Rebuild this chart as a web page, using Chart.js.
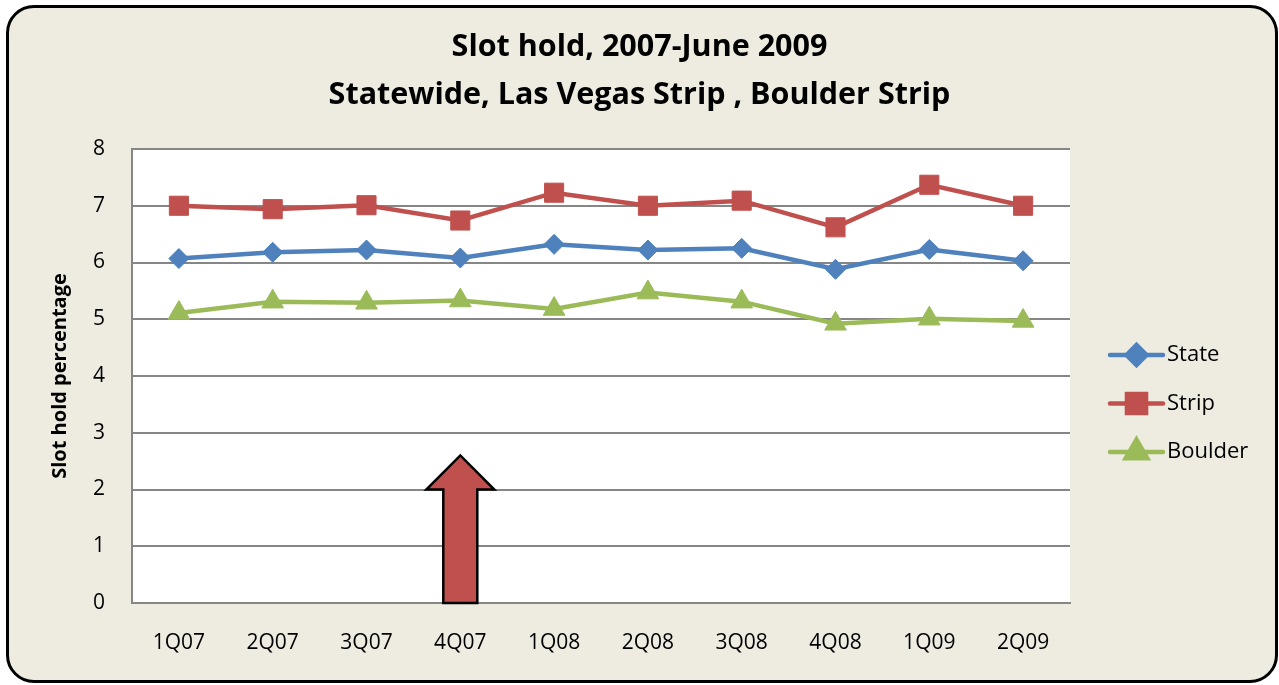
<!DOCTYPE html>
<html lang="en">
<head>
<meta charset="UTF-8">
<title>Slot hold, 2007-June 2009</title>
<script src="https://cdn.jsdelivr.net/npm/chart.js@4"></script>
<style>
  body { margin: 0; background: #ffffff; }
  .wrap { position: relative; width: 1279px; height: 685px; }
  /* rounded frame behind the chart */
  .frame {
    position: absolute; left: 6px; top: 5px; width: 1266px; height: 672px;
    background: #EEECE1; border: 3px solid #000; border-radius: 28px;
  }
  canvas { position: absolute; left: 0; top: 0; }
</style>
</head>
<body>
<div class="wrap">
  <div class="frame"></div>
  <canvas id="slotChart" width="1279" height="685"></canvas>
</div>
<script>
  const quarters = ["1Q07", "2Q07", "3Q07", "4Q07", "1Q08", "2Q08", "3Q08", "4Q08", "1Q09", "2Q09"];
  const stateHold = [6.07, 6.18, 6.22, 6.08, 6.32, 6.22, 6.25, 5.88, 6.23, 6.03];
  const stripHold = [7.0, 6.94, 7.01, 6.74, 7.23, 7.0, 7.09, 6.62, 7.37, 7.0];
  const boulderHold = [5.11, 5.31, 5.29, 5.33, 5.18, 5.47, 5.31, 4.92, 5.01, 4.97];
  const yTicks = [0, 1, 2, 3, 4, 5, 6, 7, 8];

  // arrow marking 4Q07 (value of tip and base of head)
  const arrowQuarter = "4Q07";
  const arrowTip = 2.6;
  const arrowHeadBase = 2.0;

  const gridColor = "#868686";
  const fontFamily = "'Open Sans', 'DejaVu Sans', sans-serif";

  // white plot area
  const plotBackground = {
    id: "plotBackground",
    beforeDraw(chart) {
      const { ctx, chartArea: a } = chart;
      ctx.save();
      ctx.fillStyle = "#ffffff";
      ctx.fillRect(a.left, a.top, a.right - a.left, a.bottom - a.top);
      ctx.restore();
    }
  };

  // red up arrow drawn through the scales
  const upArrow = {
    id: "upArrow",
    afterDatasetsDraw(chart) {
      const { ctx, scales } = chart;
      const x = scales.x.getPixelForValue(quarters.indexOf(arrowQuarter));
      const yBottom = scales.y.getPixelForValue(0);
      const yHead = scales.y.getPixelForValue(arrowHeadBase);
      const yTip = scales.y.getPixelForValue(arrowTip);
      const bodyHalf = 17, headHalf = 34;
      ctx.save();
      ctx.beginPath();
      ctx.moveTo(x - bodyHalf, yBottom);
      ctx.lineTo(x - bodyHalf, yHead);
      ctx.lineTo(x - headHalf, yHead);
      ctx.lineTo(x, yTip);
      ctx.lineTo(x + headHalf, yHead);
      ctx.lineTo(x + bodyHalf, yHead);
      ctx.lineTo(x + bodyHalf, yBottom);
      ctx.closePath();
      ctx.fillStyle = "#C0504D";
      ctx.fill();
      ctx.lineWidth = 2.5;
      ctx.lineJoin = "miter";
      ctx.strokeStyle = "#000000";
      ctx.stroke();
      ctx.restore();
    }
  };

  // legend: line with marker in the middle, like Excel
  const sideLegend = {
    id: "sideLegend",
    afterDraw(chart) {
      const { ctx } = chart;
      const x0 = 1110, x1 = 1163, startY = 355, gap = 48.5;
      chart.data.datasets.forEach((ds, i) => {
        const y = startY + i * gap;
        ctx.save();
        ctx.strokeStyle = ds.borderColor;
        ctx.lineWidth = 4.5;
        ctx.lineCap = "round";
        ctx.beginPath();
        ctx.moveTo(x0, y);
        ctx.lineTo(x1, y);
        ctx.stroke();
        Chart.helpers.drawPoint(ctx, {
          pointStyle: ds.pointStyle,
          radius: ds.pointRadius,
          borderWidth: 1
        }, (x0 + x1) / 2, y);
        ctx.fillStyle = ds.borderColor;
        ctx.fill();
        ctx.fillStyle = "#000000";
        ctx.font = "22px " + fontFamily;
        ctx.textBaseline = "middle";
        ctx.textAlign = "left";
        ctx.fillText(ds.label, x1 + 4, y);
        ctx.restore();
      });
    }
  };

  function series(label, data, color, style, radius) {
    return {
      label: label,
      data: data,
      borderColor: color,
      backgroundColor: color,
      pointBackgroundColor: color,
      pointBorderColor: color,
      borderWidth: 4.5,
      pointStyle: style,
      pointRadius: radius,
      pointHoverRadius: radius,
      pointBorderWidth: 1,
      tension: 0
    };
  }

  new Chart(document.getElementById("slotChart"), {
    type: "line",
    data: {
      labels: quarters,
      datasets: [
        series("State", stateHold, "#4F81BD", "rectRot", 10),
        series("Strip", stripHold, "#C0504D", "rect", 13.5),
        series("Boulder", boulderHold, "#9BBB59", "triangle", 12.5)
      ]
    },
    options: {
      responsive: false,
      animation: false,
      layout: { padding: 0 },
      plugins: {
        legend: { display: false },
        tooltip: { enabled: false },
        title: {
          display: true,
          text: ["Slot hold, 2007-June 2009", "Statewide, Las Vegas Strip , Boulder Strip"],
          color: "#000000",
          font: { family: fontFamily, size: 30.5, weight: "bold", lineHeight: 1.574 },
          padding: { top: 23, bottom: 30 }
        }
      },
      scales: {
        x: {
          offset: true,
          grid: { display: false, drawTicks: false },
          border: { display: true, color: gridColor, width: 2 },
          ticks: { color: "#000000", font: { family: fontFamily, size: 21 }, padding: 27, maxRotation: 0 },
          afterFit(s) { s.height = 82; }
        },
        y: {
          min: 0,
          max: 8,
          afterBuildTicks(s) { s.ticks = yTicks.map(v => ({ value: v })); },
          grid: { color: gridColor, lineWidth: 2, drawTicks: false },
          border: { display: true, color: gridColor, width: 2 },
          ticks: { color: "#000000", font: { family: fontFamily, size: 21 }, padding: 27 },
          title: {
            display: true,
            text: "Slot hold percentage",
            color: "#000000",
            font: { family: fontFamily, size: 20, weight: "bold" },
            padding: { top: 48 }
          },
          afterFit(s) { s.width = 132; }
        },
        side: {
          position: "right",
          display: true,
          grid: { display: false, drawTicks: false },
          border: { display: false },
          ticks: { display: false },
          afterFit(s) { s.width = 209; }
        }
      }
    },
    plugins: [plotBackground, upArrow, sideLegend]
  });
</script>
</body>
</html>
